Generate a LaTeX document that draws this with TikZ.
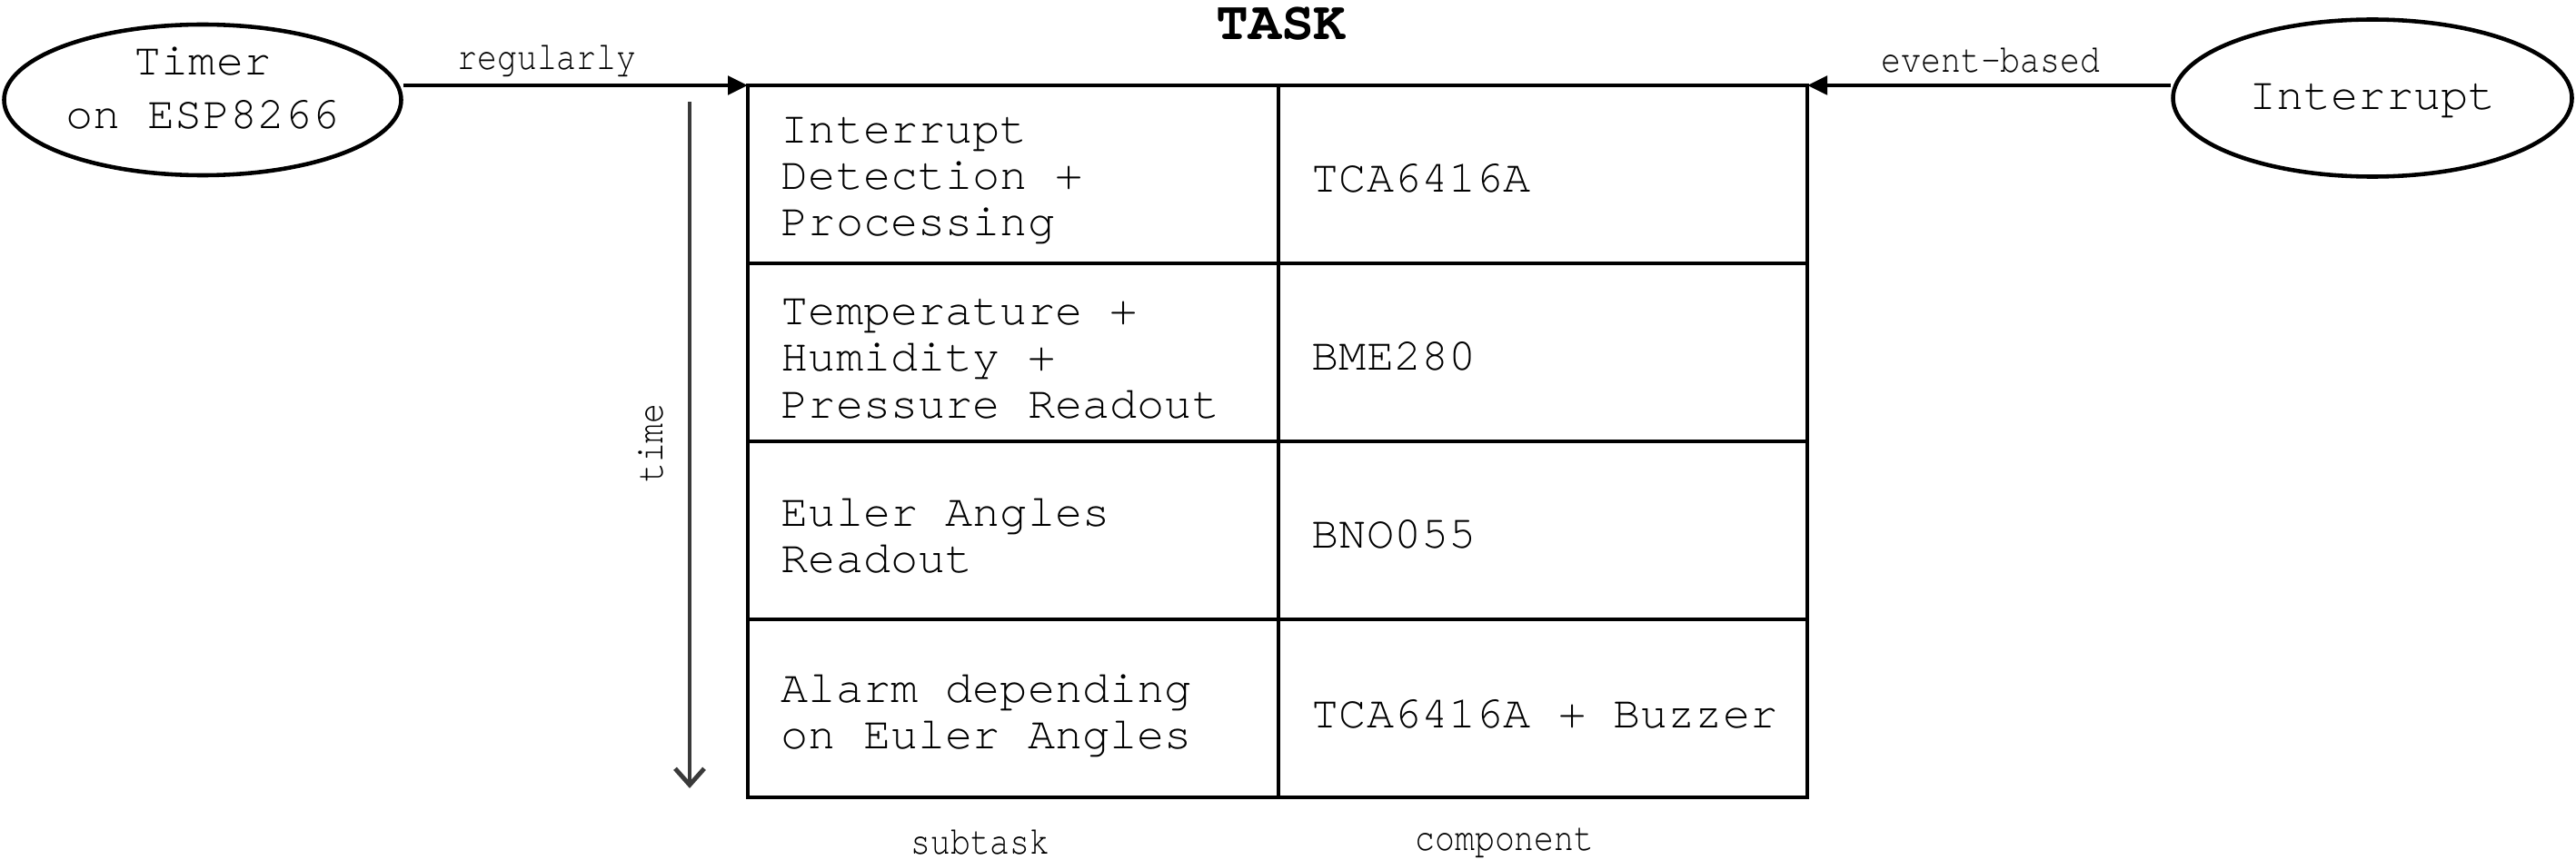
\documentclass[tikz,border=0pt]{standalone}
\usepackage{fontspec}
\setmainfont{TeX Gyre Cursor}
\newfontfamily\narrowmono[FakeStretch=0.83]{TeX Gyre Cursor}
\usetikzlibrary{shapes.geometric,arrows.meta}
\definecolor{timegray}{HTML}{3A3A3A}

\tikzset{
  cell/.style={anchor=west,inner sep=0pt,align=left,font=\fontsize{14.3}{14.6}\selectfont},
  sidelabel/.style={inner sep=0pt,font=\narrowmono\fontsize{12.5}{12.5}\selectfont},
  source/.style={draw,ellipse,line width=1.3pt,inner sep=0pt},
  sourcetext/.style={inner sep=0pt,align=center,font=\fontsize{14.3}{17}\selectfont},
  trigger/.style={line width=1.4pt,-{Triangle[length=0.22cm,width=0.2cm]}},
}

\begin{document}
\begin{tikzpicture}
\useasboundingbox (0,0) rectangle (28.35,9.46);
% table
\coordinate (tnw) at (8.23,8.52);
\coordinate (tne) at (19.89,8.52);
\draw[line width=1.4pt] (8.23,0.68) rectangle (19.89,8.52);
\draw[line width=1.2pt] (14.07,0.68) -- (14.07,8.52);
\foreach \y in {2.64,4.60,6.56} \draw[line width=1.2pt] (8.23,\y) -- (19.89,\y);
\node[font=\bfseries\fontsize{17}{17}\selectfont,inner sep=0pt] (task) at (14.10,9.20) {TASK};
% subtasks
\node[cell] (sub1) at (8.59,7.47) {Interrupt\\Detection +\\Processing};
\node[cell] (sub2) at (8.59,5.51) {Temperature +\\Humidity +\\Pressure Readout};
\node[cell] (sub3) at (8.59,3.56) {Euler Angles\\Readout};
\node[cell] (sub4) at (8.59,1.58) {Alarm depending\\on Euler Angles};
% components
\node[cell] (comp1) at (14.43,7.50) {TCA6416A};
\node[cell] (comp2) at (14.43,5.54) {BME280};
\node[cell] (comp3) at (14.43,3.58) {BNO055};
\node[cell] (comp4) at (14.43,1.60) {TCA6416A + Buzzer};
\node[sidelabel] (subtask) at (10.79,0.18) {subtask};
\node[sidelabel] (component) at (16.56,0.18) {component};
% triggers
\node[source,minimum width=4.37cm,minimum height=1.66cm] (timer) at (2.23,8.36) {};
\node[sourcetext] (timertext) at (2.23,8.49) {Timer\\on ESP8266};
\node[source,minimum width=4.39cm,minimum height=1.73cm] (irq) at (26.11,8.38) {};
\node[sourcetext] (irqtext) at (26.11,8.35) {Interrupt};
\draw[trigger] (timer.east |- tnw) -- (tnw);
\draw[trigger] (irq.west |- tne) -- (tne);
\node[sidelabel] (regularly) at (6.02,8.79) {regularly};
\node[sidelabel] (eventbased) at (21.91,8.79) {event-based};
% time axis
\coordinate (tstart) at (7.59,8.34);
\coordinate (tend) at (7.59,0.78);
\draw[line width=1.4pt,draw=timegray,-{Straight Barb[length=0.18cm,width=0.32cm]}] (tstart) -- (tend);
\node[sidelabel,rotate=90] (time) at (7.16,4.58) {time};
\end{tikzpicture}
\end{document}
